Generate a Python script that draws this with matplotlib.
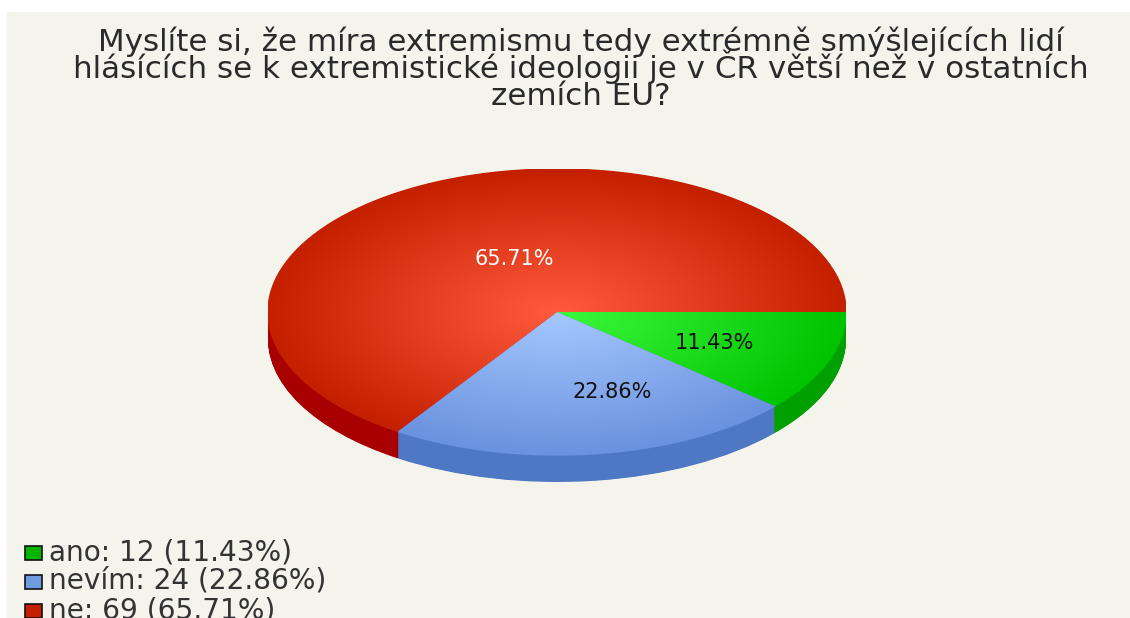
import numpy as np
import matplotlib
matplotlib.use('Agg')
import matplotlib.pyplot as plt
from matplotlib.colors import LinearSegmentedColormap
from matplotlib.patches import Rectangle

plt.rcParams['font.family'] = ['DejaVu Sans']

title_lines = ['Myslíte si, že míra extremismu tedy extrémně smýšlejících lidí',
               'hlásících se k extremistické ideologii je v ČR větší než v ostatních',
               'zemích EU?']
categories = ['ano', 'nevím', 'ne']
counts = [12, 24, 69]
percents = [11.43, 22.86, 65.71]

top_inner = ['#3df83d', '#a6c8ff', '#ff5a3c']
top_outer = ['#00c400', '#6a92de', '#c42000']
side_colors = ['#00a000', '#4f78c4', '#a80000']
legend_colors = ['#00b400', '#6f9be0', '#c42000']
label_colors = ['#111111', '#111111', '#ffffff']

W, H = 1130, 618
fig = plt.figure(figsize=(W / 100, H / 100), dpi=100, facecolor='white')

# page in pixel coordinates
bg = fig.add_axes([0, 0, 1, 1])
bg.set_xlim(0, W)
bg.set_ylim(H, 0)
bg.axis('off')
bg.add_patch(Rectangle((7, 12), W - 7, H - 12, color='#f4f4ec', lw=0))

for y, line in zip([51, 78, 105], title_lines):
    bg.text(581, y, line, ha='center', va='baseline', fontsize=22.3, color='#2a2a2a')

# pie box, the ellipse fills this rectangle
cx, cy, rx, ry = 557, 312, 289, 143
depth = 27
ax = fig.add_axes([(cx - rx) / W, 1 - (cy + ry + depth) / H, 2 * rx / W, (2 * ry + depth) / H])
ax.patch.set_alpha(0)

unit = 2 * ry / 2
dy = depth / unit
# side of the pie: same wedges stacked downwards
for d in np.linspace(dy, 0, 55):
    ax.pie(counts, colors=side_colors, startangle=0, counterclock=False, radius=1,
           center=(0, -d), wedgeprops={'linewidth': 0.6, 'edgecolor': 'none'})
top, _ = ax.pie(counts, colors=top_outer, startangle=0, counterclock=False, radius=1,
                center=(0, 0), wedgeprops={'linewidth': 0})
ax.set_aspect('auto')
ax.set_frame_on(False)

# radial shading of each slice
gx, gy = np.meshgrid(np.linspace(-1, 1, 800), np.linspace(-1, 1, 600))
r = np.clip(np.hypot(gx, gy), 0, 1)
for w, c0, c1 in zip(top, top_inner, top_outer):
    cmap = LinearSegmentedColormap.from_list('s', [c0, c1])
    im = ax.imshow(r, extent=(-1, 1, -1, 1), origin='lower', cmap=cmap, vmin=0, vmax=1,
                   aspect='auto', zorder=3, interpolation='bilinear')
    im.set_clip_path(w)
    # smooth the clipped rim of the image
    t = np.radians(np.linspace(w.theta1, w.theta2, 200))
    ax.plot(np.cos(t), np.sin(t), color=c1, lw=1, zorder=4)
ax.set_xlim(-1, 1)
ax.set_ylim(-1 - dy, 1)

# percent labels
label_pos = [(714, 349), (612, 398), (514, 265)]
for (x, y), p, c in zip(label_pos, percents, label_colors):
    fig.text(x / W, 1 - y / H, f'{p:.2f}%', ha='center', va='baseline', fontsize=15, color=c)

# legend, cut by the bottom edge like in the original
legend_y = [553, 582, 611]
for y, name, n, p, c in zip(legend_y, categories, counts, percents, legend_colors):
    bg.add_patch(Rectangle((25, y - 7), 17, 14, facecolor=c, edgecolor='#111111', lw=1.2))
    bg.text(49, y + 7, f'{name}: {n} ({p:.2f}%)', ha='left', va='baseline', fontsize=20.2, color='#333333')

fig.savefig('out.png', dpi=100, facecolor=fig.get_facecolor())
